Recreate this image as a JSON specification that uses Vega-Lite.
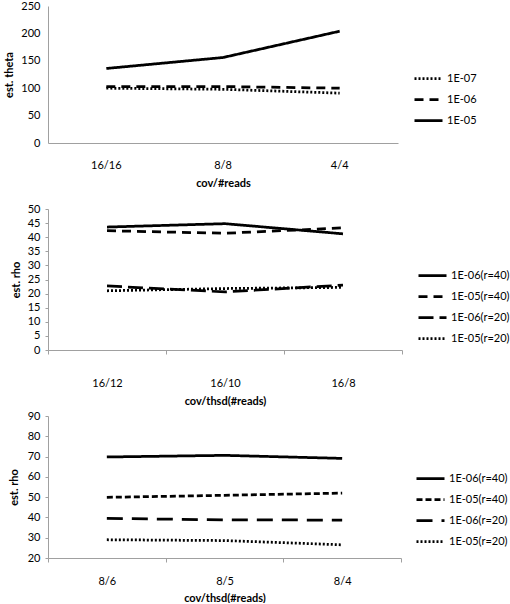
{
  "$schema": "https://vega.github.io/schema/vega-lite/v6.json",
  "padding": {"left": 3, "top": 0, "right": 0, "bottom": 0},
  "background": "white",
  "config": {
    "font": "Lato",
    "view": {"stroke": null},
    "axis": {"domainColor": "#a0a0a0", "tickColor": "#a0a0a0", "labelColor": "#000", "labelFontSize": 11, "labelFont": "Lato", "titleFont": "Lato", "titleFontSize": 11, "titleFontWeight": "bold", "titleColor": "#000", "grid": false},
    "legend": {"labelFont": "Lato", "labelFontSize": 11, "labelColor": "#000", "labelOffset": 3, "symbolType": "stroke", "symbolStrokeWidth": 2.75, "symbolStrokeColor": "black", "symbolSize": 784, "orient": "none", "title": null},
    "line": {"color": "black", "strokeWidth": 2.75}
  },
  "datasets": {
    "theta": [
      {"x": "16/16", "s": "1E-07", "y": 100},
      {"x": "8/8", "s": "1E-07", "y": 98},
      {"x": "4/4", "s": "1E-07", "y": 91},
      {"x": "16/16", "s": "1E-06", "y": 103},
      {"x": "8/8", "s": "1E-06", "y": 103},
      {"x": "4/4", "s": "1E-06", "y": 100},
      {"x": "16/16", "s": "1E-05", "y": 136},
      {"x": "8/8", "s": "1E-05", "y": 156},
      {"x": "4/4", "s": "1E-05", "y": 204}
    ],
    "rho16": [
      {"x": "16/12", "s": "1E-06(r=40)", "y": 43.6},
      {"x": "16/10", "s": "1E-06(r=40)", "y": 44.8},
      {"x": "16/8", "s": "1E-06(r=40)", "y": 41.2},
      {"x": "16/12", "s": "1E-05(r=40)", "y": 42.3},
      {"x": "16/10", "s": "1E-05(r=40)", "y": 41.4},
      {"x": "16/8", "s": "1E-05(r=40)", "y": 43.3},
      {"x": "16/12", "s": "1E-06(r=20)", "y": 22.7},
      {"x": "16/10", "s": "1E-06(r=20)", "y": 20.6},
      {"x": "16/8", "s": "1E-06(r=20)", "y": 23.0},
      {"x": "16/12", "s": "1E-05(r=20)", "y": 21.0},
      {"x": "16/10", "s": "1E-05(r=20)", "y": 21.8},
      {"x": "16/8", "s": "1E-05(r=20)", "y": 22.2}
    ],
    "rho8": [
      {"x": "8/6", "s": "1E-06(r=40)", "y": 69.8},
      {"x": "8/5", "s": "1E-06(r=40)", "y": 70.6},
      {"x": "8/4", "s": "1E-06(r=40)", "y": 69.1},
      {"x": "8/6", "s": "1E-05(r=40)", "y": 49.9},
      {"x": "8/5", "s": "1E-05(r=40)", "y": 50.9},
      {"x": "8/4", "s": "1E-05(r=40)", "y": 52.0},
      {"x": "8/6", "s": "1E-06(r=20)", "y": 39.5},
      {"x": "8/5", "s": "1E-06(r=20)", "y": 38.8},
      {"x": "8/4", "s": "1E-06(r=20)", "y": 38.7},
      {"x": "8/6", "s": "1E-05(r=20)", "y": 29.0},
      {"x": "8/5", "s": "1E-05(r=20)", "y": 28.6},
      {"x": "8/4", "s": "1E-05(r=20)", "y": 26.5}
    ]
  },
  "bounds": "flush",
  "spacing": 66,
  "vconcat": [
    {
      "width": 350, "height": 137,
      "data": {"name": "theta"},
      "mark": {"type": "line"},
      "encoding": {
        "x": {"field": "x", "type": "ordinal", "sort": ["16/16", "8/8", "4/4"], "scale": {"type": "band", "paddingInner": 0, "paddingOuter": 0}, "bandPosition": 0.5,
          "axis": {"title": "cov/#reads", "labelAngle": 0, "ticks": false, "tickSize": 0, "labelPadding": 16, "titlePadding": 7}},
        "y": {"field": "y", "type": "quantitative", "scale": {"domain": [0, 250], "nice": false}, "axis": {"values": [0, 50, 100, 150, 200, 250], "title": "est. theta", "ticks": false, "tickSize": 0, "labelPadding": 8, "titlePadding": 6}},
        "strokeDash": {"field": "s", "type": "nominal", "scale": {"domain": ["1E-07", "1E-06", "1E-05"], "range": [[2, 2], [9, 6], [1, 0]]},
          "legend": {"legendX": 365, "legendY": 57, "rowPadding": 0}}
      }
    },
    {
      "width": 354, "height": 141,
      "data": {"name": "rho16"},
      "mark": {"type": "line"},
      "encoding": {
        "x": {"field": "x", "type": "ordinal", "sort": ["16/12", "16/10", "16/8"], "scale": {"type": "band", "paddingInner": 0, "paddingOuter": 0}, "bandPosition": 0.5,
          "axis": {"title": "cov/thsd(#reads)", "labelAngle": 0, "tickBand": "extent", "tickSize": 4, "labelPadding": 23, "titlePadding": 7}},
        "y": {"field": "y", "type": "quantitative", "scale": {"domain": [0, 50], "nice": false}, "axis": {"values": [0, 5, 10, 15, 20, 25, 30, 35, 40, 45, 50], "title": "est. rho", "tickSize": 3, "labelPadding": 5, "titlePadding": 6}},
        "strokeDash": {"field": "s", "type": "nominal", "scale": {"domain": ["1E-06(r=40)", "1E-05(r=40)", "1E-06(r=20)", "1E-05(r=20)"], "range": [[1, 0], [9, 6], [15, 6], [2, 2]]},
          "legend": {"legendX": 369, "legendY": 51, "rowPadding": 0}}
      }
    },
    {
      "width": 353, "height": 142,
      "data": {"name": "rho8"},
      "mark": {"type": "line"},
      "encoding": {
        "x": {"field": "x", "type": "ordinal", "sort": ["8/6", "8/5", "8/4"], "scale": {"type": "band", "paddingInner": 0, "paddingOuter": 0}, "bandPosition": 0.5,
          "axis": {"title": "cov/thsd(#reads)", "labelAngle": 0, "tickBand": "extent", "tickSize": 4, "labelPadding": 13, "titlePadding": 6}},
        "y": {"field": "y", "type": "quantitative", "scale": {"domain": [20, 90], "nice": false, "zero": false}, "axis": {"values": [20, 30, 40, 50, 60, 70, 80, 90], "title": "est. rho", "tickSize": 3, "labelPadding": 5, "titlePadding": 8}},
        "strokeDash": {"field": "s", "type": "nominal", "scale": {"domain": ["1E-06(r=40)", "1E-05(r=40)", "1E-06(r=20)", "1E-05(r=20)"], "range": [[1, 0], [6, 3], [16, 9], [2, 2]]},
          "legend": {"legendX": 367, "legendY": 47, "rowPadding": 0}}
      }
    }
  ],
  "resolve": {"scale": {"strokeDash": "independent", "x": "independent", "y": "independent"}, "legend": {"strokeDash": "independent"}}
}
